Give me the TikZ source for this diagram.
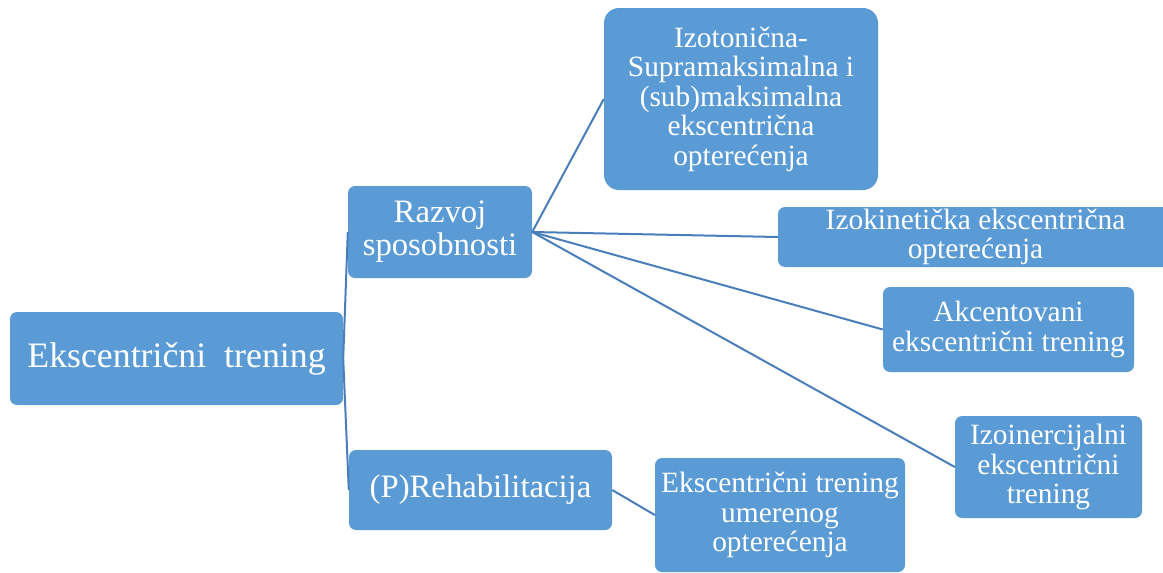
\documentclass[tikz,border=0pt]{standalone}
\usepackage{fontspec}
\setmainfont{Liberation Serif}
\usetikzlibrary{positioning}
\definecolor{boxblue}{RGB}{91,155,213}
\definecolor{lineblue}{RGB}{74,126,187}

\begin{document}
\begin{tikzpicture}[x=1pt,y=-1pt]
  \useasboundingbox (0,0) rectangle (1163,573);
  \begin{scope}[
    every node/.style={
      align=center,
      anchor=center,
      fill=boxblue,
      text=white,
      rounded corners=7pt,
      inner sep=0pt,
      font=\fontsize{29.4}{29.5}\selectfont,
    },
    ]
    \node[minimum width=333pt,minimum height=93pt,
          font=\fontsize{35.8}{36}\selectfont]
      (root) at (176.5,358.5) {Ekscentrični\ \ trening};
    \node[minimum width=184pt,minimum height=92pt,
          font=\fontsize{32.7}{33}\selectfont]
      (razvoj) at (440,232) {Razvoj\\sposobnosti};
    \node[minimum width=263pt,minimum height=80pt,
          font=\fontsize{32.7}{33}\selectfont]
      (rehab) at (480.5,490) {(P)Rehabilitacija};
  \end{scope}
  \begin{scope}[
    every node/.style={
      align=center,
      anchor=center,
      fill=boxblue,
      text=white,
      rounded corners=7pt,
      inner sep=0pt,
      font=\fontsize{29.4}{29.5}\selectfont,
    },
    ]
    \node[minimum width=274pt,minimum height=182pt,rounded corners=15pt]
      (izoton) at (741,99)
      {Izotonična-\\Supramaksimalna i\\(sub)maksimalna\\ekscentrična\\opterećenja};
    \node[minimum width=395pt,minimum height=60pt]
      (izokin) at (975.5,237) {Izokinetička ekscentrična\\opterećenja};
    \node[minimum width=251pt,minimum height=85pt]
      (akcent) at (1008.5,329.5) {Akcentovani\\ekscentrični trening};
    \node[minimum width=187pt,minimum height=102pt]
      (izoiner) at (1048.5,467) {Izoinercijalni\\ekscentrični\\trening};
    \node[minimum width=250pt,minimum height=114pt]
      (umeren) at (780,515) {Ekscentrični trening\\umerenog\\opterećenja};
  \end{scope}
  \begin{scope}[
    every path/.style={draw=lineblue,line width=2pt},
    ]
    \path
    (root.east)   edge (razvoj.west)
    (root.east)   edge (rehab.west)
    (razvoj.east) edge (izoton.west)
    (razvoj.east) edge (izokin.west)
    (razvoj.east) edge (akcent.west)
    (razvoj.east) edge (izoiner.west)
    (rehab.east)  edge (umeren.west);
  \end{scope}
\end{tikzpicture}
\end{document}
